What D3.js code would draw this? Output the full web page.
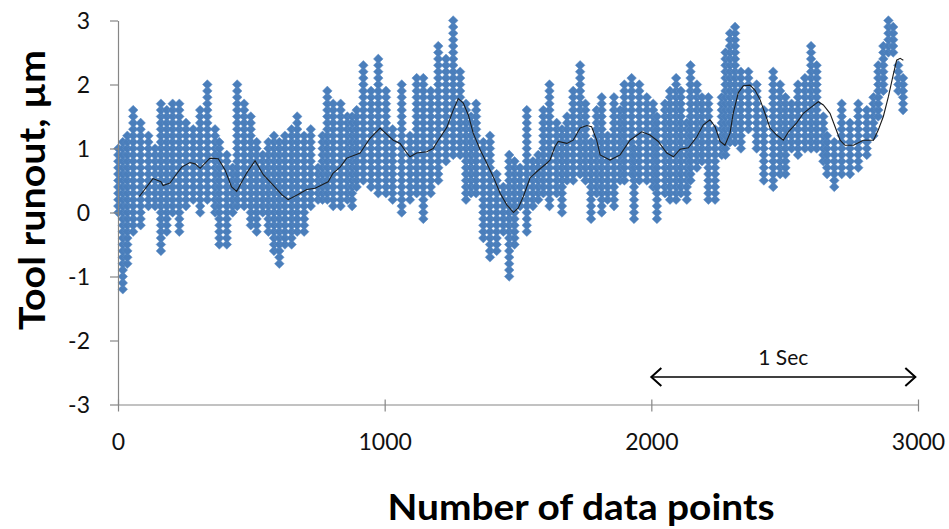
<!DOCTYPE html>
<html><head><meta charset="utf-8">
<script src="https://cdn.jsdelivr.net/npm/d3@7"></script>
<style>body{margin:0;background:#fff} svg{display:block}</style>
</head><body>
<svg id="chart" width="949" height="529"></svg>
<script>
// Runout readings grouped per spindle sweep: sample index, highest and lowest reading (µm)
const columnIndex = [1,18,35,57,85,114,139,161,183,205,230,255,282,308,335,364,380,408,430,447,473,498,520,543,564,585,605,626,651,672,698,723,750,767,785,807,835,860,878,895,920,949,976,1005,1030,1064,1095,1120,1145,1173,1201,1230,1257,1283,1305,1324,1343,1370,1395,1420,1445,1467,1487,1508,1533,1556,1576,1595,1618,1645,1665,1684,1707,1733,1753,1774,1795,1814,1836,1860,1883,1899,1926,1935,1955,1983,2007,2021,2051,2070,2093,2111,2133,2147,2171,2190,2214,2239,2264,2278,2295,2314,2336,2364,2395,2422,2457,2483,2503,2526,2550,2576,2599,2620,2645,2659,2686,2714,2745,2776,2808,2833,2851,2870,2889,2907,2926,2944];
const columnMax = [0.96,1.15,1.17,1.58,1.36,1.17,1.0,1.67,1.56,1.67,1.67,1.38,1.25,1.56,1.98,1.29,1.07,0.86,0.65,1.98,1.67,1.49,1.07,0.91,1.07,1.17,1.07,1.17,1.29,1.46,1.22,1.27,0.65,1.2,1.88,1.67,1.67,1.49,1.51,1.59,2.29,1.89,2.37,1.88,1.33,1.98,1.17,2.09,2.09,1.88,2.58,2.4,2.97,2.16,1.67,1.5,1.69,1.05,1.17,0.6,0.4,0.86,0.84,0.7,1.58,0.75,0.91,1.6,1.98,1.38,1.3,1.5,1.85,2.29,1.69,1.15,1.59,1.78,1.17,1.78,1.65,2.0,2.09,1.0,1.95,1.77,1.69,1.5,1.67,1.88,2.09,1.9,1.38,2.29,2.0,1.8,1.77,1.33,1.77,2.48,2.76,2.89,2.2,2.16,1.98,1.6,2.16,2.0,1.8,1.7,1.95,2.06,2.58,2.27,1.49,1.2,1.1,1.67,1.45,1.67,1.59,1.75,2.32,2.58,2.97,2.89,2.27,2.06];
const columnMin = [0.0,-1.17,-0.78,-0.29,-0.21,0.05,0.1,-0.57,-0.31,-0.05,-0.29,0.05,0.2,-0.05,0.2,0.0,-0.5,-0.47,-0.05,0.15,0.05,-0.21,-0.26,-0.05,-0.31,-0.57,-0.78,-0.47,-0.5,-0.26,-0.31,0.05,0.2,0.2,0.2,0.15,0.05,0.2,0.05,0.4,0.45,0.36,0.26,0.3,0.2,-0.05,0.2,0.26,-0.1,0.3,0.49,0.78,0.9,0.9,0.2,0.3,0.28,-0.37,-0.68,-0.6,-0.3,-0.99,-0.55,0.15,-0.29,0.05,0.2,0.25,0.05,0.3,0.0,0.5,0.5,0.6,0.5,-0.1,0.3,0.0,0.2,0.1,0.5,0.5,0.6,-0.1,0.5,0.45,0.4,-0.1,0.31,0.2,0.2,0.26,0.2,0.49,0.7,0.75,0.2,0.2,0.93,0.93,1.09,1.1,1.04,1.33,1.04,0.5,0.41,0.57,0.57,1.04,0.95,1.0,1.04,1.04,0.8,0.62,0.41,0.62,0.62,0.73,0.88,1.2,1.46,1.9,2.5,2.47,1.92,1.61];
const resolution = 0.1; // reading step of the probe (µm)

// Moving average (black line)
const avgIndex = [80,131,161,169,195,214,239,270,289,308,345,376,401,426,445,483,514,545,581,614,638,675,708,739,764,788,806,833,858,908,945,983,995,1032,1058,1083,1095,1120,1158,1182,1201,1233,1257,1276,1295,1314,1332,1358,1383,1407,1433,1458,1483,1501,1520,1545,1576,1608,1620,1639,1651,1683,1707,1733,1758,1776,1795,1808,1845,1883,1920,1964,1995,2026,2058,2083,2108,2139,2170,2195,2220,2239,2258,2276,2295,2307,2326,2345,2370,2389,2408,2426,2445,2470,2495,2514,2545,2570,2601,2626,2645,2670,2689,2708,2726,2758,2795,2833,2851,2870,2889,2907,2920,2933,2945];
const avgValue = [0.25,0.53,0.48,0.42,0.46,0.57,0.71,0.78,0.76,0.69,0.85,0.84,0.67,0.40,0.33,0.62,0.81,0.59,0.43,0.28,0.2,0.28,0.36,0.38,0.43,0.48,0.61,0.71,0.85,0.93,1.16,1.32,1.27,1.13,1.08,0.93,0.87,0.93,0.95,1.0,1.13,1.33,1.6,1.78,1.71,1.52,1.24,0.98,0.77,0.56,0.30,0.12,0.0,0.07,0.25,0.54,0.66,0.77,0.82,1.03,1.11,1.08,1.13,1.32,1.36,1.34,1.13,0.9,0.82,0.9,1.13,1.26,1.21,1.11,0.93,0.87,0.99,1.01,1.18,1.37,1.45,1.34,1.11,1.05,1.24,1.55,1.87,1.98,1.99,1.91,1.76,1.55,1.32,1.21,1.13,1.26,1.4,1.55,1.65,1.73,1.68,1.55,1.34,1.13,1.05,1.05,1.13,1.13,1.29,1.5,1.81,2.15,2.38,2.41,2.38];

const xTicks = [0,1000,2000,3000];
const yTicks = [-3,-2,-1,0,1,2,3];
const xTitle = "Number of data points";
const yTitle = "Tool runout, µm";
const spanStart = 2000, spanEnd = 2990, spanLevel = -2.57, spanLabel = "1 Sec", spanLabelLevel = -2.38;

const svg = d3.select("#chart");
const x = d3.scaleLinear().domain([0,3000]).range([118,918]);
const y = d3.scaleLinear().domain([-3,3]).range([404.5,20.5]);

// points
const pts = [];
columnIndex.forEach((ix,i)=>{
  const lo = Math.round(columnMin[i]/resolution), hi = Math.round(columnMax[i]/resolution);
  for (let k=lo;k<=hi;k++) pts.push([ix, k*resolution]);
});
const diamond = "M0,-4.8L4.8,0L0,4.8L-4.8,0Z";
svg.append("g").selectAll("path").data(pts).join("path")
  .attr("d", diamond)
  .attr("transform", d=>`translate(${x(d[0])},${y(d[1])})`)
  .attr("fill", "#4a7ebb")
  .attr("stroke", "#5d8cc4").attr("stroke-width", 0.5);

// moving average
svg.append("path")
  .datum(avgIndex.map((ix,i)=>[ix, avgValue[i]]))
  .attr("fill","none").attr("stroke","#1a1a1a").attr("stroke-width",1.1)
  .attr("d", d3.line().x(d=>x(d[0])).y(d=>y(d[1])));

// axes
const axisColor = "#868686";
const fmt = d => String(d);
const gy = svg.append("g").attr("transform","translate(118,0)")
  .call(d3.axisLeft(y).tickValues(yTicks).tickFormat(fmt).tickSize(8).tickSizeOuter(0));
const gx = svg.append("g").attr("transform",`translate(0,${y(-3)})`)
  .call(d3.axisBottom(x).tickValues(xTicks).tickFormat(fmt).tickSize(7).tickSizeOuter(0));
[gx,gy].forEach(g=>{
  g.select(".domain").attr("stroke",axisColor).attr("stroke-width",1.2);
  g.selectAll(".tick line").attr("stroke",axisColor).attr("stroke-width",1.2);
  g.selectAll(".tick text").attr("fill","#111").style("font-family","Lato, 'Open Sans', sans-serif").style("font-size","23px");
});
gx.selectAll(".tick line").attr("y1",-5);
gx.selectAll(".tick text").attr("y",37).attr("dy","0.35em");
gy.selectAll(".tick text").attr("x",-28).attr("dy","0.36em");

// titles
svg.append("text").attr("x",581).attr("y",520).attr("text-anchor","middle")
  .attr("textLength",387).attr("lengthAdjust","spacingAndGlyphs")
  .style("font-family","Lato, sans-serif").style("font-weight","bold").style("font-size","37px")
  .text(xTitle);
svg.append("text").attr("transform","translate(45,190) rotate(-90)").attr("text-anchor","middle")
  .attr("textLength",280).attr("lengthAdjust","spacingAndGlyphs")
  .style("font-family","Lato, sans-serif").style("font-weight","bold").style("font-size","37px")
  .text(yTitle);

// 1 Sec span annotation
const ay = y(spanLevel), ax1 = x(spanStart), ax2 = x(spanEnd);
const ann = svg.append("g").attr("stroke","#000").attr("fill","none").attr("stroke-width",1.6);
ann.append("line").attr("x1",ax1).attr("x2",ax2).attr("y1",ay).attr("y2",ay);
ann.append("path").attr("d",`M${ax1+10},${ay-9}L${ax1},${ay}L${ax1+10},${ay+9}`).attr("stroke-width",2);
ann.append("path").attr("d",`M${ax2-10},${ay-9}L${ax2},${ay}L${ax2-10},${ay+9}`).attr("stroke-width",2);
svg.append("text").attr("x",x((spanStart+spanEnd)/2)).attr("y",y(spanLabelLevel)).attr("text-anchor","middle")
  .style("font-family","Lato, sans-serif").style("font-size","21px").attr("fill","#111").text(spanLabel);
</script>
</body></html>
